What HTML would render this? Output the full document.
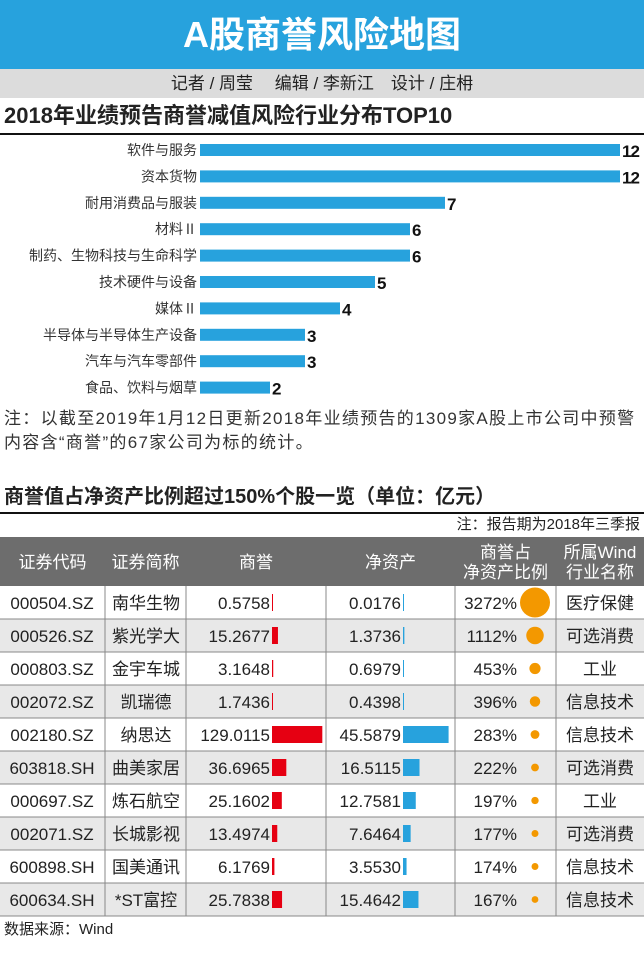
<!DOCTYPE html>
<html><head><meta charset="utf-8"><style>
body{margin:0;width:644px;height:953px;background:#fff;position:relative;overflow:hidden;font-family:"Liberation Sans","Noto Sans CJK SC",sans-serif;color:#222}
.abs{position:absolute}
</style></head><body>
<div class="abs" style="left:0;top:0;width:644px;height:69px;background:#27a2dd;color:#fff;font-size:36px;font-weight:bold;text-align:center;line-height:69px">A股商誉风险地图</div>
<div class="abs" style="left:0;top:69px;width:644px;height:29px;background:#dcdcdc;text-align:center;font-size:17px;line-height:29px">记者 / 周莹　 编辑 / 李新江　设计 / 庄枏</div>
<div class="abs" style="left:4px;top:100px;font-size:22px;line-height:32px;font-weight:bold">2018年业绩预告商誉减值风险行业分布TOP10</div>
<div class="abs" style="left:0;top:133px;width:644px;height:2px;background:#111"></div>
<svg id="bars" class="abs" style="left:0;top:135px" width="644" height="265"></svg>
<div class="abs" style="left:4px;top:407px;width:640px;font-size:17px;letter-spacing:1.3px;line-height:24px;color:#333;white-space:nowrap">注：以截至2019年1月12日更新2018年业绩预告的1309家A股上市公司中预警<br>内容含“商誉”的67家公司为标的统计。</div>
<div class="abs" style="left:4px;top:482px;font-size:20px;font-weight:bold;line-height:30px">商誉值占净资产比例超过150%个股一览（单位：亿元）</div>
<div class="abs" style="left:0;top:512px;width:644px;height:2px;background:#111"></div>
<div class="abs" style="right:4px;top:513px;font-size:15px;line-height:24px">注：报告期为2018年三季报</div>
<svg id="tbl" class="abs" style="left:0;top:537px" width="644" height="380"></svg>
<div class="abs" style="left:4px;top:918px;font-size:15px;line-height:24px">数据来源：Wind</div>
<script>
const categories=["软件与服务","资本货物","耐用消费品与服装","材料Ⅱ","制药、生物科技与生命科学","技术硬件与设备","媒体Ⅱ","半导体与半导体生产设备","汽车与汽车零部件","食品、饮料与烟草"];
const counts=[12,12,7,6,6,5,4,3,3,2];
const codes=["000504.SZ","000526.SZ","000803.SZ","002072.SZ","002180.SZ","603818.SH","000697.SZ","002071.SZ","600898.SH","600634.SH"];
const names=["南华生物","紫光学大","金宇车城","凯瑞德","纳思达","曲美家居","炼石航空","长城影视","国美通讯","*ST富控"];
const goodwill=[0.5758,15.2677,3.1648,1.7436,129.0115,36.6965,25.1602,13.4974,6.1769,25.7838];
const netAssets=[0.0176,1.3736,0.6979,0.4398,45.5879,16.5115,12.7581,7.6464,3.5530,15.4642];
const ratios=[3272,1112,453,396,283,222,197,177,174,167];
const industries=["医疗保健","可选消费","工业","信息技术","信息技术","可选消费","工业","可选消费","信息技术","信息技术"];
const NS="http://www.w3.org/2000/svg";
function mk(p,t,a,txt){const e=document.createElementNS(NS,t);for(const k in a)e.setAttribute(k,a[k]);if(txt!=null)e.textContent=txt;p.appendChild(e);return e;}
const bx=v=>200+v*35, by=i=>15+i*26.4;
const bs=document.getElementById('bars');
categories.forEach((c,i)=>{
 const y=by(i);
 const l=mk(bs,'text',{x:197,y:y+5,'text-anchor':'end','font-size':14,fill:'#333'},c);
 
 
 const r=mk(bs,'rect',{x:200,y:y-6,width:bx(counts[i])-200,height:12,fill:'#27a2dd'});
 
 
 const v=mk(bs,'text',{x:bx(counts[i])+2,y:y+7,'font-size':17,'font-weight':'bold',fill:'#111',style:'letter-spacing:-1px'},counts[i]);
 
 
});
const t=document.getElementById('tbl');
const cols=[0,105,186,326,455,556,644];
mk(t,'rect',{x:0,y:0,width:644,height:49,fill:'#6d6d6d'});
const hdr=[["证券代码"],["证券简称"],["商誉"],["净资产"],["商誉占","净资产比例"],["所属Wind","行业名称"]];
hdr.forEach((h,j)=>{const cx=(cols[j]+cols[j+1])/2;
 h.forEach((s,k)=>{const e=mk(t,'text',{x:cx,y:h.length==1?31:21+k*20,'text-anchor':'middle','font-size':17,fill:'#fff'},s);
 
 });});
const gx=v=>272+v*0.39, nx=v=>403+v*1.0;
codes.forEach((c,i)=>{
 const y=49+i*33;
 mk(t,'rect',{x:0,y:y,width:644,height:33,fill:i%2?'#e8e8e8':'#fff'});
 const cy=y+23;
 const a=[[52,c],[146,names[i]]];
 a.forEach(([x,s])=>{const e=mk(t,'text',{x:x,y:cy,'text-anchor':'middle','font-size':17,fill:'#222'},s);
 
 });
 const g=mk(t,'text',{x:270,y:cy,'text-anchor':'end','font-size':17,fill:'#222'},goodwill[i].toFixed(4));
 
 
 const gb=mk(t,'rect',{x:272,y:y+8,width:Math.max(1,gx(goodwill[i])-272),height:17,fill:'#e60012'});
 
 
 const n=mk(t,'text',{x:401,y:cy,'text-anchor':'end','font-size':17,fill:'#222'},netAssets[i].toFixed(4));
 
 
 const nb=mk(t,'rect',{x:403,y:y+8,width:Math.max(1,nx(netAssets[i])-403),height:17,fill:'#27a2dd'});
 
 
 const p=mk(t,'text',{x:517,y:cy,'text-anchor':'end','font-size':17,fill:'#222'},ratios[i]+'%');
 
 
 const ci=mk(t,'circle',{cx:535,cy:y+16.5,r:15*Math.sqrt(ratios[i]/3272),fill:'#f39800'});
 
 
 const ind=mk(t,'text',{x:600,y:cy,'text-anchor':'middle','font-size':17,fill:'#222'},industries[i]);
 
 
});
[105,186,326,455,556].forEach(x=>mk(t,'line',{x1:x,y1:49,x2:x,y2:379,stroke:'#888','stroke-width':1}));
for(let i=1;i<=10;i++)mk(t,'line',{x1:0,y1:49+i*33,x2:644,y2:49+i*33,stroke:'#888','stroke-width':1});
</script>
</body></html>
